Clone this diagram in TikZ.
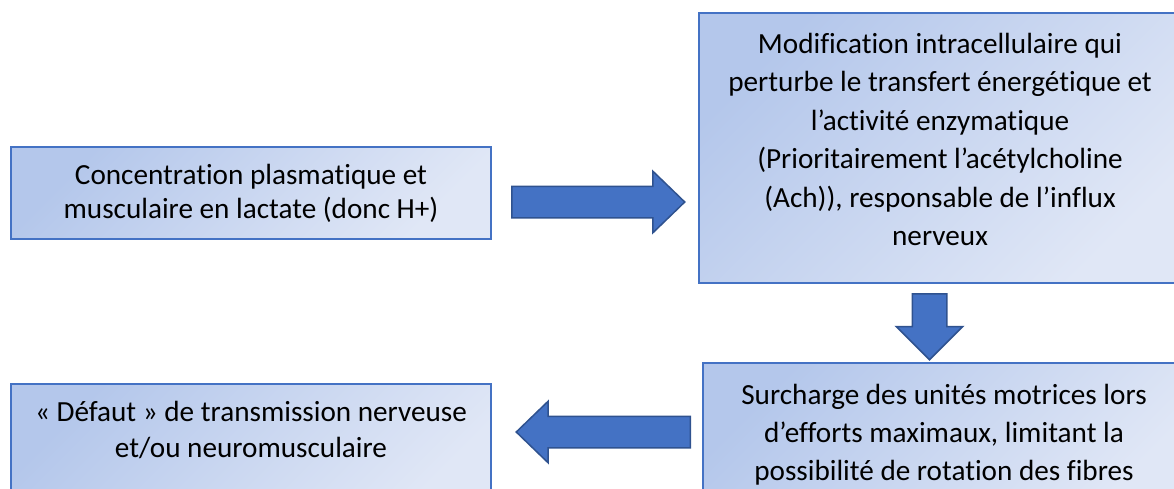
\documentclass[tikz,border=0pt]{standalone}
\usepackage{fontspec}
\setmainfont{Carlito}[Ligatures=NoCommon]
\usetikzlibrary{positioning,shapes.arrows}
\definecolor{bleu}{RGB}{68,114,196}
\definecolor{bleuf}{RGB}{47,82,143}
\definecolor{ciel}{RGB}{180,199,235}
\definecolor{pale}{RGB}{224,231,246}
\tikzset{
  cadre/.style={draw=bleu, line width=1.5pt, top color=ciel, bottom color=pale, shading angle=45, inner sep=0pt},
  texte/.style={align=center, inner sep=0pt, text=black},
  fleche/.style={single arrow, anchor=tail, fill=bleu, draw=bleuf, line width=1.5pt, minimum width=60pt, single arrow head extend=15pt, single arrow tip angle=88, inner sep=15pt},
}

\begin{document}
\begin{tikzpicture}[x=1pt, y=-1pt]
  \useasboundingbox (0,0) rectangle (1174,488);
  % les cadres
  \node[cadre, minimum width=480pt, minimum height=92pt] (m1) at (251,193) {};
  \node[cadre, minimum width=482pt, minimum height=270pt] (m2) at (940,148) {};
  \node[cadre, minimum width=482pt, minimum height=150pt] (m3) at (944,438) {};
  \node[cadre, minimum width=480pt, minimum height=130pt] (m4) at (251,449) {};
  % les textes
  \node[texte, font=\fontsize{29.2}{34.5}\selectfont, below=17.5pt of m1.north] (t1)
    {Concentration plasmatique et\\musculaire en lactate (donc H+)};
  \node[texte, font=\fontsize{29.2}{38.5}\selectfont, below=20.5pt of m2.north] (t2)
    {Modification intracellulaire qui\\perturbe le transfert énergétique et\\l’activité enzymatique\\(Prioritairement l’acétylcholine\\(Ach)), responsable de l’influx\\nerveux};
  \node[texte, font=\fontsize{29.2}{38}\selectfont, below=21.5pt of m3.north] (t3)
    {Surcharge des unités motrices lors\\d’efforts maximaux, limitant la\\possibilité de rotation des fibres};
  \node[texte, font=\fontsize{29.2}{36}\selectfont, below=17.5pt of m4.north] (t4)
    {«~Défaut~» de transmission nerveuse\\et/ou neuromusculaire};
  % les flèches
  \node[fleche, minimum height=173pt] (f1) at (511,202) {};
  \node[fleche, minimum height=66pt, minimum width=65pt, inner sep=16.5pt, single arrow head extend=16pt, single arrow tip angle=90, shape border rotate=270] (f2) at (929.5,293) {};
  \node[fleche, minimum height=174pt, shape border rotate=180] (f3) at (691,432) {};
\end{tikzpicture}
\end{document}
